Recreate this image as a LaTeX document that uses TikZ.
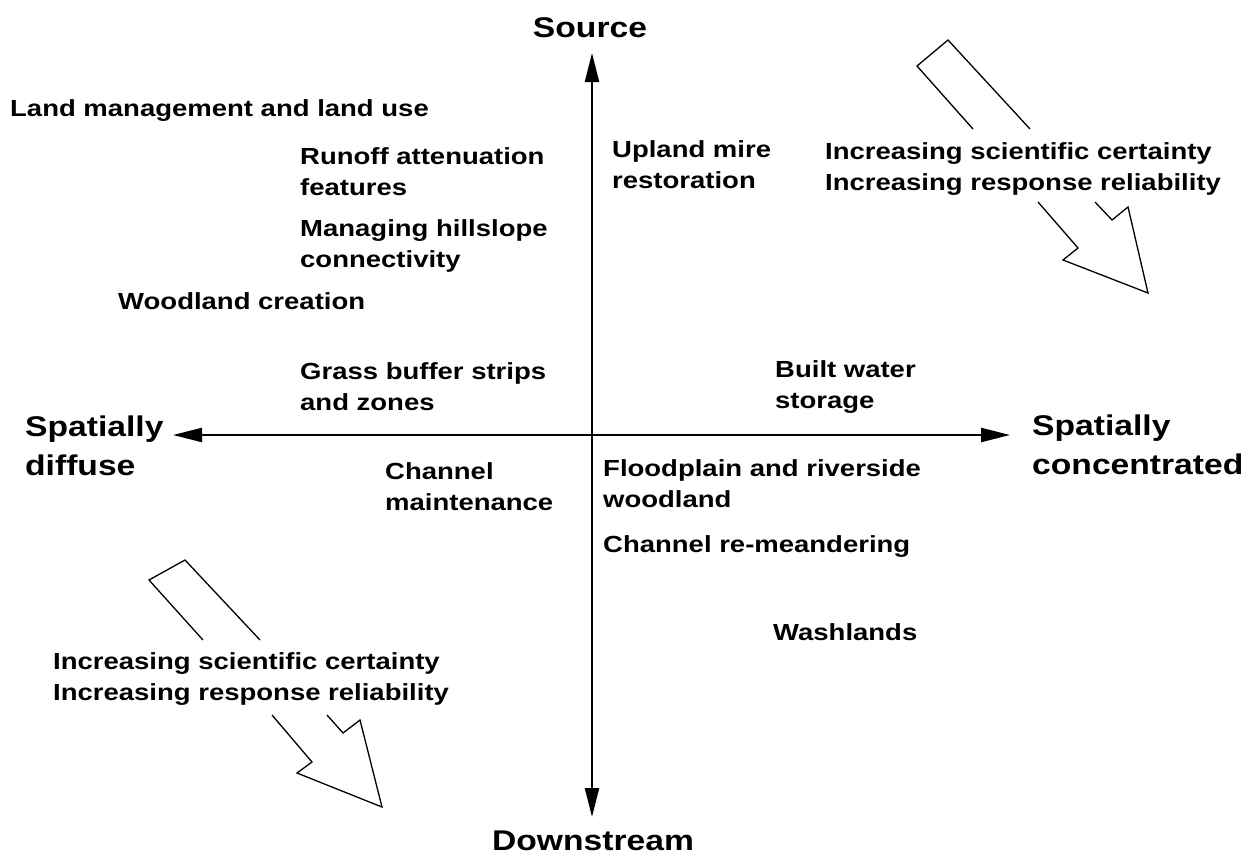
\documentclass[tikz,border=0pt]{standalone}
\usepackage{fontspec}
\setmainfont{Liberation Sans}[FakeStretch=1.18]
\usetikzlibrary{arrows.meta}
\tikzset{
  lab/.style={font=\fontsize{23.3}{31}\selectfont\bfseries, inner sep=0pt, anchor=base west, align=left},
  big/.style={font=\fontsize{28.5}{39}\selectfont\bfseries, inner sep=0pt, align=left},
  axisline/.style={line width=2.3pt, {Triangle[length=29pt,width=14pt]}-{Triangle[length=29pt,width=14pt]}},
  hollow/.style={line width=1.3pt, line join=miter}
}
\begin{document}
\begin{tikzpicture}[x=1pt,y=-1pt]
\useasboundingbox (0,0) rectangle (1251,854);
\fill[white] (0,0) rectangle (1251,854);
% axes
\coordinate (up) at (592,53);
\coordinate (dn) at (592,817);
\coordinate (lf) at (173,435);
\coordinate (rt) at (1010,435);
\draw[axisline] (up) -- (dn);
\draw[axisline] (lf) -- (rt);
% axis labels (anchor on the baseline of the last line)
\node[big, anchor=base] (source) at (590,37) {Source};
\node[big, anchor=base] (downstream) at (593,850) {Downstream};
\node[big, anchor=base west] (diffuse) at (25,475) {Spatially\\diffuse};
\node[big, anchor=base west] (conc) at (1032,474) {Spatially\\concentrated};
% measures
\node[lab] (land) at (10,116) {Land management and land use};
\node[lab] (runoff) at (300,195) {Runoff attenuation\\features};
\node[lab] (hill) at (300,267) {Managing hillslope\\connectivity};
\node[lab] (wood) at (118,309) {Woodland creation};
\node[lab] (grass) at (300,410) {Grass buffer strips\\and zones};
\node[lab] (chmaint) at (385,510) {Channel\\maintenance};
\node[lab] (upland) at (612,188) {Upland mire\\restoration};
\node[lab] (built) at (775,408) {Built water\\storage};
\node[lab] (flood) at (603,507) {Floodplain and riverside\\woodland};
\node[lab] (remeander) at (603,552) {Channel re-meandering};
\node[lab] (wash) at (773,640) {Washlands};
\node[lab] (inc1) at (825,190) {Increasing scientific certainty\\Increasing response reliability};
\node[lab] (inc2) at (53,700) {Increasing scientific certainty\\Increasing response reliability};
% hollow arrows, top right
\draw[hollow] (973,129) -- (917,66) -- (948,40) -- (1030,129);
\draw[hollow] (1038,202) -- (1078,248) -- (1063,260) -- (1148,293) -- (1128,207) -- (1112,220) -- (1095,202);
% hollow arrows, bottom left
\draw[hollow] (203,640) -- (149,580) -- (185,560) -- (260,640);
\draw[hollow] (272,715) -- (312,762) -- (297,773) -- (382,807) -- (360,720) -- (343,733) -- (327,715);
\end{tikzpicture}
\end{document}
